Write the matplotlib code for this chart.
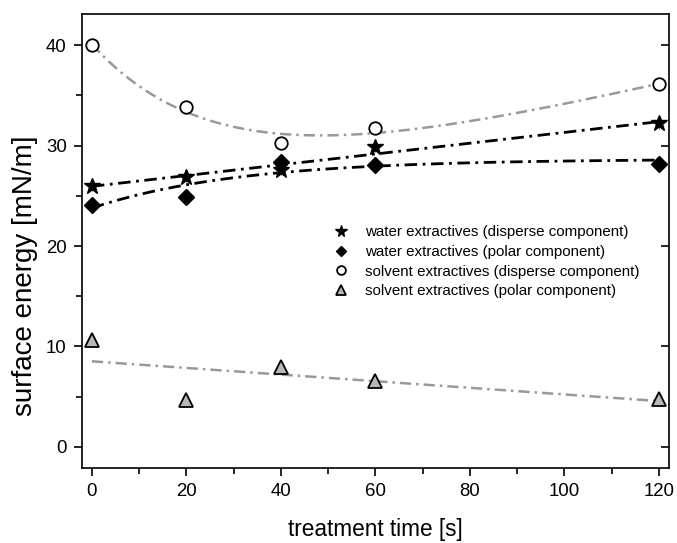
import numpy as np
import matplotlib.pyplot as plt
from matplotlib.ticker import MultipleLocator

plt.rcParams['font.family'] = ['Liberation Sans', 'DejaVu Sans']

# treatment time [s]
time_s = [0, 20, 40, 60, 120]

# surface energy [mN/m]
water_disperse = [26.0, 26.9, 27.6, 29.9, 32.2]
water_polar = [24.1, 24.9, 28.4, 28.1, 28.2]
solvent_disperse = [40.0, 33.8, 30.3, 31.8, 36.1]
solvent_polar = [10.6, 4.7, 8.0, 6.6, 4.8]

labels = ['water extractives (disperse component)',
          'water extractives (polar component)',
          'solvent extractives (disperse component)',
          'solvent extractives (polar component)']


def exp_fit(x, y, linear=False):
    # y = a + b*exp(-x/tau) (+ c*x), tau by grid search
    x = np.asarray(x, float)
    y = np.asarray(y, float)
    best = None
    for tau in np.linspace(5, 300, 600):
        cols = [np.ones_like(x), np.exp(-x / tau)]
        if linear:
            cols.append(x)
        A = np.column_stack(cols)
        coef = np.linalg.lstsq(A, y, rcond=None)[0]
        sse = np.sum((A @ coef - y) ** 2)
        if best is None or sse < best[0]:
            best = (sse, tau, coef)
    _, tau, coef = best

    def f(t):
        out = coef[0] + coef[1] * np.exp(-t / tau)
        if linear:
            out = out + coef[2] * t
        return out
    return f


fig = plt.figure(figsize=(6.77, 5.43), dpi=100)
ax = fig.add_axes([0.1211, 0.1381, 0.8669, 0.8361])

xs = np.linspace(0, 120, 200)
gray = '#999999'
dashdot = (0, (4.5, 2, 1, 2))

# fitted trend lines
fit_wd = np.polyfit(time_s, water_disperse, 1)
fit_sp = np.polyfit(time_s, solvent_polar, 1)
f_wp = exp_fit(time_s, water_polar)
f_sd = exp_fit(time_s, solvent_disperse, linear=True)
ax.plot(xs, f_sd(xs), color=gray, lw=1.8, ls=dashdot)
ax.plot(xs, np.polyval(fit_sp, xs), color=gray, lw=1.8, ls=dashdot)
ax.plot(xs, np.polyval(fit_wd, xs), color='black', lw=2.0, ls=dashdot)
ax.plot(xs, f_wp(xs), color='black', lw=2.0, ls=dashdot)

# small error bars
ax.errorbar(time_s, solvent_polar, yerr=0.6, fmt='none', ecolor='#555555', elinewidth=0.8)
ax.errorbar(time_s, water_disperse, yerr=0.5, fmt='none', ecolor='#555555', elinewidth=0.8)

# data points
ax.plot(time_s, water_disperse, ls='none', marker='*', ms=12, color='black', label=labels[0])
ax.plot(time_s, water_polar, ls='none', marker='D', ms=8, color='black', label=labels[1])
ax.plot(time_s, solvent_disperse, ls='none', marker='o', ms=9, mfc='white', mec='black',
        mew=1.3, label=labels[2])
ax.plot(time_s, solvent_polar, ls='none', marker='^', ms=10, mfc='#b8b8b8', mec='black',
        mew=1.3, label=labels[3])

ax.set_xlim(-2.1, 122.1)
ax.set_ylim(-2.1, 43.1)
ax.xaxis.set_major_locator(MultipleLocator(20))
ax.xaxis.set_minor_locator(MultipleLocator(10))
ax.yaxis.set_major_locator(MultipleLocator(10))
ax.yaxis.set_minor_locator(MultipleLocator(5))
ax.tick_params(which='both', direction='out', width=1.2)
ax.tick_params(which='major', length=6, pad=5)
ax.tick_params(which='minor', length=4)
ax.tick_params(axis='y', which='major', right=True)
for sp in ax.spines.values():
    sp.set_linewidth(1.2)

# inward ticks on the right spine
for t in ax.yaxis.get_major_ticks():
    t.tick2line.set_marker(0)  # TICKLEFT
    t.tick2line.set_markersize(6)

for lab in ax.get_xticklabels() + ax.get_yticklabels():
    lab.set_fontsize(13.4)

ax.set_xlabel('treatment time [s]', fontsize=16.3, labelpad=13)
fig.text(25 / 677, 1 - 276 / 543, 'surface energy [mN/m]', fontsize=20,
         rotation=90, ha='center', va='center')

leg = ax.legend(loc='upper left', bbox_to_anchor=(0.405, 0.565), frameon=False,
                fontsize=10.9, handlelength=1.0, handletextpad=1.1,
                labelspacing=0.38, markerscale=0.7)

fig.savefig('out.png', dpi=100)
